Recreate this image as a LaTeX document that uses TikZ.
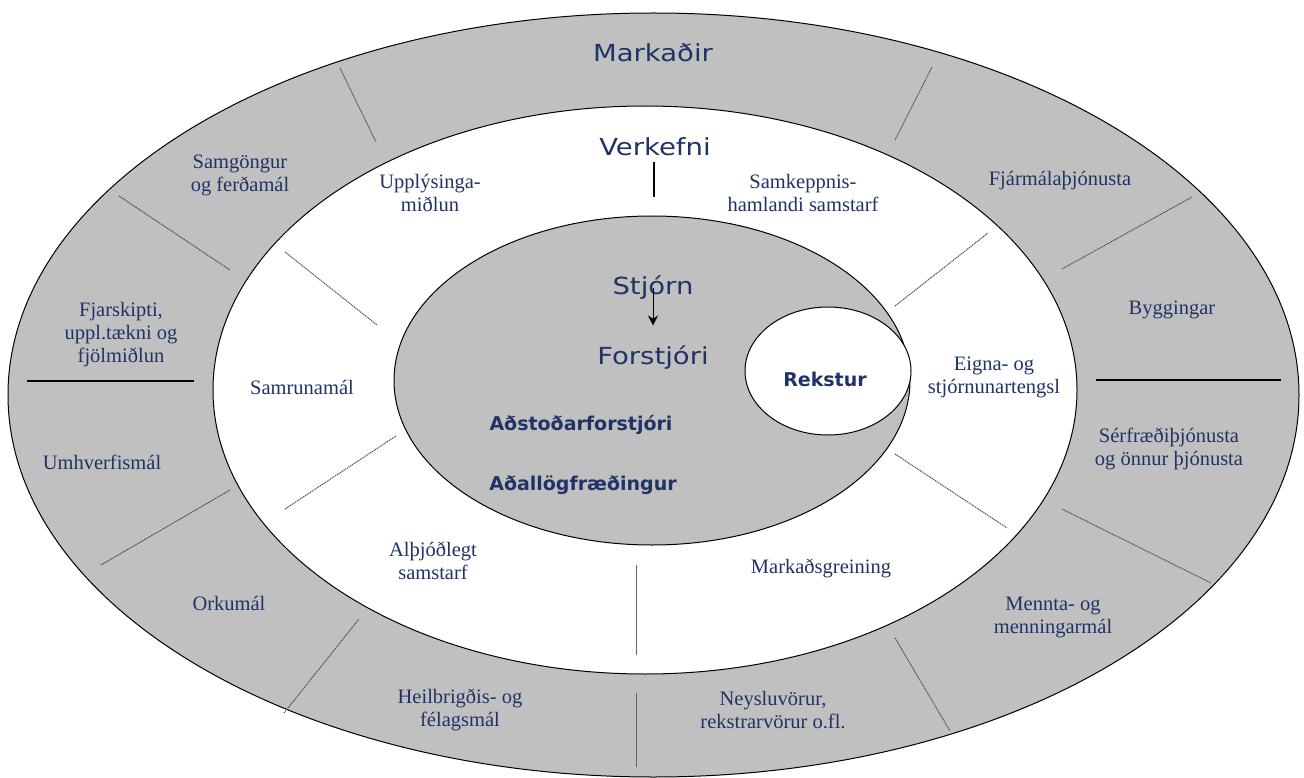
\documentclass[tikz,border=0pt]{standalone}
\usepackage{fontspec}
\setmainfont{Liberation Serif}
\newfontfamily\headfont{DejaVu Sans}[FakeStretch=1.17]
\newfontfamily\bossfont{DejaVu Sans}
\usetikzlibrary{arrows.meta,shapes.geometric}
\definecolor{navy}{RGB}{31,51,102}
\definecolor{ringgray}{RGB}{192,192,192}

\begin{document}
\begin{tikzpicture}[x=1pt,y=-1pt,>={Stealth[length=10pt,width=10pt]},
    area/.style={inner sep=0pt,text=navy,align=center,font=\fontsize{20.5}{23}\selectfont},
    head/.style={inner sep=0pt,text=navy,anchor=base,font=\headfont\fontsize{23.5}{28}\selectfont},
    boss/.style={inner sep=0pt,text=navy,anchor=base,font=\bossfont\bfseries\fontsize{19}{23}\selectfont},
    split/.style={dash pattern=on 1.2pt off 0.8pt,draw=black!70,line width=1pt},
    bar/.style={line width=1.2pt},
    stem/.style={draw=black!60,line width=1pt}]
  \useasboundingbox (0,0) rectangle (1304,778);
  % rings
  \draw[fill=ringgray,line width=1pt] (653.5,395) ellipse [x radius=645.5pt,y radius=382pt];
  \draw[fill=white,line width=1pt] (645,390) ellipse [x radius=432pt,y radius=284pt];
  \draw[fill=ringgray,line width=1pt] (652,380.5) ellipse [x radius=258pt,y radius=164.5pt];
  \node[ellipse,draw,fill=white,line width=1pt,inner sep=0pt,minimum width=166pt,minimum height=128pt] (rekstur) at (828,371) {};

  % outer ring dividers
  \draw[split] (340,68) -- (376,142);
  \draw[split] (119,196) -- (230,270);
  \draw[bar] (27,381) -- (194,381);
  \draw[split] (101,565) -- (230,490);
  \draw[split] (284,713) -- (359,619);
  \draw[stem] (636,693) -- (636,767);
  \draw[split] (895,638) -- (950,731);
  \draw[split] (1062,509) -- (1211,583);
  \draw[bar] (1096,380) -- (1281,380);
  \draw[split] (1062,269) -- (1192,197);
  \draw[split] (895,140) -- (932,67);
  % middle ring dividers
  \draw[bar] (654,162) -- (654,197);
  \draw[split] (285,252) -- (377,325);
  \draw[split] (285,509) -- (396,436);
  \draw[stem] (636,565) -- (636,655);
  \draw[split] (895,454) -- (1007,528);
  \draw[split] (895,306) -- (988,233);

  % headings
  \node[head] (markadir) at (653,61.5) {Markaðir};
  \node[head] (verkefni) at (655,155.5) {Verkefni};
  \node[head] (stjorn) at (653,294.5) {Stjórn};
  \node[head] (forstjori) at (653,364.5) {Forstjóri};
  \node[boss] (rekstxt) at (825,386) {Rekstur};
  \node[boss] (adstod) at (581,430) {Aðstoðarforstjóri};
  \node[boss] (adall) at (583,490) {Aðallögfræðingur};
  \draw[->,line width=1pt] ([yshift=6.5pt]stjorn.base) -- ([yshift=39pt]forstjori.base);

  % markets
  \node[area] (samgongur) at (240,175) {Samgöngur\\og ferðamál};
  \node[area] (fjarmal) at (1060,181) {Fjármálaþjónusta};
  \node[area] (byggingar) at (1172,310) {Byggingar};
  \node[area] (fjarskipti) at (121,335) {Fjarskipti,\\uppl.tækni og\\fjölmiðlun};
  \node[area] (serfraedi) at (1169,449) {Sérfræðiþjónusta\\og önnur þjónusta};
  \node[area] (umhverfi) at (102,462) {Umhverfismál};
  \node[area] (orka) at (229,603) {Orkumál};
  \node[area] (mennta) at (1053,617) {Mennta- og\\menningarmál};
  \node[area] (heilbrigdi) at (460,710) {Heilbrigðis- og\\félagsmál};
  \node[area] (neyslu) at (773,710) {Neysluvörur,\\rekstrarvörur o.fl.};
  % tasks
  \node[area] (upplysinga) at (430,193) {Upplýsinga-\\miðlun};
  \node[area] (samkeppni) at (803,193) {Samkeppnis-\\hamlandi samstarf};
  \node[area] (samruna) at (302,387) {Samrunamál};
  \node[area] (eigna) at (994,377) {Eigna- og\\stjórnunartengsl};
  \node[area] (althjod) at (433,561) {Alþjóðlegt\\samstarf};
  \node[area] (markgrein) at (821,568) {Markaðsgreining};
\end{tikzpicture}
\end{document}
